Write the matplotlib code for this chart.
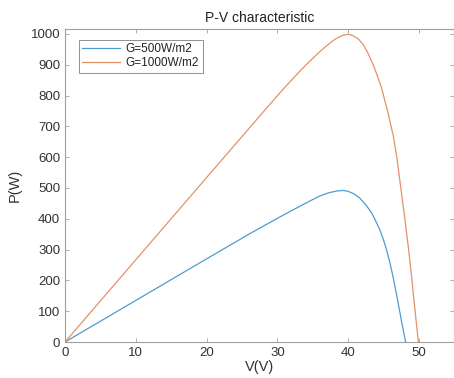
import matplotlib
matplotlib.use("Agg")
import matplotlib.pyplot as plt

plt.rcParams['font.family'] = ['Liberation Sans', 'DejaVu Sans']

# values
v_500 = [0, 10, 20, 26.2, 30.9, 33.2, 34.6, 36.0, 37.2, 38.3, 39.3, 40.0, 40.8,
         41.6, 42.5, 43.3, 43.9, 44.5, 45.0, 45.4, 45.8, 46.2, 46.5, 46.8,
         47.2, 47.5, 47.8, 48.1]
p_500 = [0, 135, 270, 353, 413, 441, 458, 474, 484, 490, 492, 489, 481,
         468, 445, 419, 392, 362, 330, 300, 265, 225, 192, 157,
         108, 70, 36, 0]

v_1000 = [0, 10, 20, 25, 28, 30.9, 33.2, 34.5, 35.5, 36.7, 37.9, 38.6, 39.3,
          40.0, 40.7, 41.4, 42.1, 42.8, 43.5, 44.1, 44.7, 45.2, 45.6, 46.0,
          46.4, 46.9, 47.3, 47.9, 48.5, 48.9, 49.2, 49.6, 49.9]
p_1000 = [0, 267, 534, 667, 747, 823, 880, 910, 932, 957, 979, 989, 996,
          999, 994, 984, 966, 937, 901, 865, 825, 781, 745, 705,
          665, 593, 522, 417, 305, 223, 154, 66, 0]

labels = ['G=500W/m2', 'G=1000W/m2']
x_ticks = [0, 10, 20, 30, 40, 50]
y_ticks = list(range(0, 1001, 100))

fig = plt.figure(figsize=(4.54, 3.78), dpi=100)
ax = fig.add_axes([0.1432, 0.0952, 0.8578, 0.8281])

ax.plot(v_500, p_500, color='#4f9ccf', lw=0.9, label=labels[0])
ax.plot(v_1000, p_1000, color='#e3916a', lw=0.9, label=labels[1])

ax.set_xlim(0, 55)
ax.set_ylim(0, 1016)
ax.set_xticks(x_ticks)
ax.set_yticks(y_ticks)

ax.tick_params(direction='in', length=3, width=0.6, colors='#a0a0a0',
               labelcolor='#333333', labelsize=9.5, top=True, right=True)
for s in ax.spines.values():
    s.set_color('#a0a0a0')
    s.set_linewidth(0.8)

ax.set_title('P-V characteristic', fontsize=10, color='#222222', pad=5)
ax.set_xlabel('V(V)', fontsize=10.5, color='#333333', labelpad=1)
ax.set_ylabel('P(W)', fontsize=10.5, color='#333333', labelpad=6)

leg = ax.legend(loc='upper left', bbox_to_anchor=(0.035, 0.965), fontsize=8.5,
                fancybox=False, framealpha=1, edgecolor='#909090',
                handlelength=3.2, handletextpad=0.5, borderpad=0.3,
                labelspacing=0.15, borderaxespad=0)
leg.get_frame().set_linewidth(0.7)
for t in leg.get_texts():
    t.set_color('#222222')

fig.savefig('out.png', dpi=100)
